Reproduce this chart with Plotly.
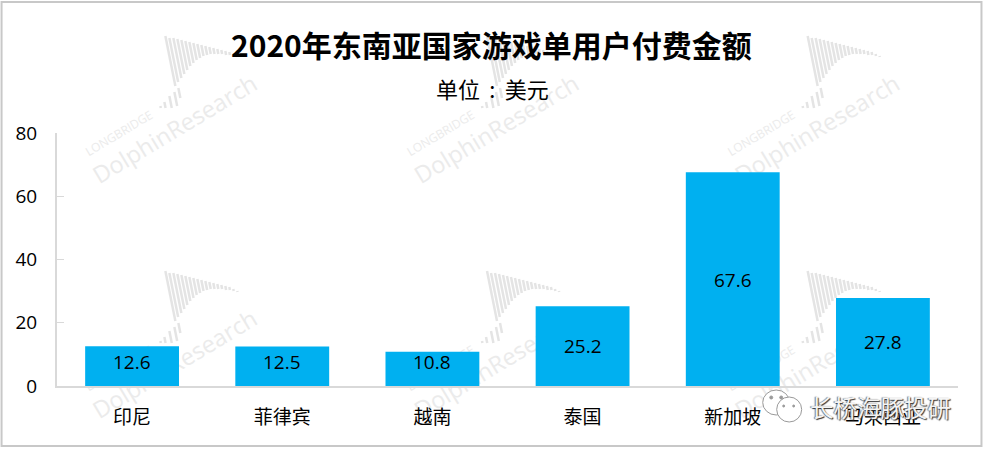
import plotly.graph_objects as go

W, H = 984, 450
L, R, T, B = 56.5, 25.5, 133, 64

categories = ["印尼", "菲律宾", "越南", "泰国", "新加坡", "马来西亚"]
values = [12.6, 12.5, 10.8, 25.2, 67.6, 27.8]
y_ticks = [0, 20, 40, 60, 80]

# small nudges of the value labels away from the bar centre, in pixels
label_shift = [4, 4, 7, 0, -1, 0]

# watermark stripes: top dx from the icon origin, top and bottom dy
stripe_dx = [0, 4, 8, 12, 16, 20, 24, 28, 32, 36, 40, 44, 48, 52, 56, 60, 64, 68, 72,
             -5, -1, 4, 9, 13]
stripe_top = [0, 2, 2, 3, 4, 5, 6, 7, 8, 9, 10, 11, 12, 13, 14, 15, 16, 18, 20,
              70, 66, 60, 56, 52]
stripe_bot = [50, 46, 42, 38, 34, 30, 27, 24, 22, 20, 19, 18, 18, 18, 18, 19, 19, 20, 21,
              72, 72, 72, 70, 62]
mark_x = [0, 322, 643]
mark_y = [0, 235]

FONT = "Noto Sans CJK SC"
LATIN = "Open Sans"
GREY = "#D9D9D9"
MARK = "#EBEBEB"
STRIPE = "#E4E4E4"


def px(x):
    return (x - L) / (W - L - R)


def py(y):
    return 1 - (y - T) / (H - T - B)


def mark_label(text, cx, cy, size):
    # a shape label, so that the watermark stays behind the bars
    return dict(
        type="rect", xref="paper", yref="paper", layer="below",
        x0=px(cx - 2), x1=px(cx + 2), y0=py(cy - 2), y1=py(cy + 2),
        line=dict(width=0), fillcolor="rgba(0,0,0,0)",
        label=dict(text=text, textangle=-31, textposition="middle center",
                   xanchor="center", yanchor="middle",
                   font=dict(family=LATIN, size=size, color=MARK)),
    )


shapes = []

# ── WATERMARKS ──────────────────────────────────────────────────────────────
for oy in mark_y:
    for ox in mark_x:
        for dx, top, bot in zip(stripe_dx, stripe_top, stripe_bot):
            shapes.append(dict(
                type="line", xref="paper", yref="paper", layer="below",
                x0=px(ox + 165 + dx), x1=px(ox + 165 + dx + 0.2 * (bot - top)),
                y0=py(oy + 36 + top), y1=py(oy + 36 + bot),
                line=dict(color=STRIPE, width=2.5),
            ))
        shapes.append(mark_label("LONGBRIDGE", ox + 119, oy + 134, 12))
        shapes.append(mark_label("DolphinResearch", ox + 175, oy + 130, 23.5))

# ── OUTER BORDER ────────────────────────────────────────────────────────────
shapes.append(dict(
    type="rect", xref="paper", yref="paper", layer="below",
    x0=px(1), x1=px(982), y0=py(2), y1=py(446),
    line=dict(color="#C8C8C8", width=2),
))

# ── WECHAT BADGE ────────────────────────────────────────────────────────────
for x0, x1, y0, y1, fill in [
    (763, 790, 390, 415, "white"), (777, 802, 397, 422, "white"),
    (770, 773, 396, 399, "#9A9A9A"), (780, 783, 396, 399, "#9A9A9A"),
    (783, 785, 405, 407, "#9A9A9A"), (793, 795, 405, 407, "#9A9A9A"),
]:
    shapes.append(dict(
        type="circle", xref="paper", yref="paper", layer="above",
        x0=px(x0), x1=px(x1), y0=py(y0), y1=py(y1),
        fillcolor=fill, line=dict(color="#9A9A9A", width=1),
    ))

annotations = [
    dict(text="2020年东南亚国家游戏单用户付费金额", x=px(491), y=py(44),
         font=dict(family=FONT, size=30, color="black", weight="bold")),
    dict(text="单位\u2009\u00a0:\u00a0\u2009美元", x=px(492), y=py(88),
         font=dict(family=FONT, size=22, color="black")),
    dict(text="长桥海豚投研", x=px(881), y=py(407),
         font=dict(family=FONT, size=23.5, color="#F4F4F4",
                   shadow="1px 1px 1px #333, -1px 0px 1px #777")),
]
for a in annotations:
    a.update(xref="paper", yref="paper")

# value labels, placed on the bars through the data axes
for cat, v, shift in zip(categories, values, label_shift):
    annotations.append(dict(
        xref="x", yref="y", x=cat, y=v / 2, yshift=shift, text=f"{v:.1f}",
        font=dict(family=LATIN, size=19, color="black"),
    ))
for a in annotations:
    a.update(showarrow=False, xanchor="center", yanchor="middle")

fig = go.Figure(go.Bar(
    x=categories, y=values,
    marker=dict(color="#00B0F0", line=dict(width=0)),
))

fig.update_layout(
    width=W, height=H, autosize=False,
    margin=dict(l=L, r=R, t=T, b=B, pad=0),
    paper_bgcolor="white", plot_bgcolor="rgba(0,0,0,0)",
    bargap=0.375, showlegend=False,
    shapes=shapes, annotations=annotations,
    xaxis=dict(
        type="category", showgrid=False, zeroline=False, ticks="",
        showline=True, linecolor=GREY, linewidth=2,
        tickfont=dict(family=FONT, size=19, color="black"), ticklabelstandoff=13,
    ),
    yaxis=dict(
        range=[0, 80], tickvals=y_ticks, showgrid=False, zeroline=False,
        showline=True, linecolor=GREY, linewidth=2,
        ticks="inside", ticklen=7, tickcolor=GREY, tickwidth=1,
        tickfont=dict(family=LATIN, size=19, color="black"), ticklabelstandoff=14,
    ),
)

fig.write_html(
    "out.html",
    config=dict(displayModeBar=False),
    post_script="document.body.style.margin='0';",
)
